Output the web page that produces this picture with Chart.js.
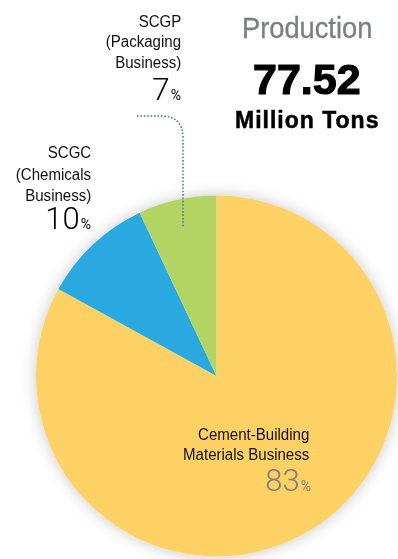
<!DOCTYPE html>
<html><head><meta charset="utf-8">
<script src="https://cdn.jsdelivr.net/npm/chart.js@4"></script>
<style>
html,body{margin:0;padding:0;background:#fff;}
#wrap{position:relative;width:398px;height:559px;overflow:hidden;}
#wrap canvas{position:absolute;left:0;top:0;}
.t{position:absolute;white-space:nowrap;font-family:"Liberation Sans",Arial,sans-serif;color:#111;}
.lab{font-size:16px;line-height:16px;transform:scaleX(0.94);transform-origin:right center;text-align:right;}
.big{font-family:Roboto,"Open Sans",sans-serif;font-weight:300;font-size:32px;line-height:32px;text-align:right;color:#000;}
.big small{font-size:14px;font-weight:400;margin-left:1px;}
</style></head>
<body>
<div id="wrap">
<canvas id="c" width="398" height="559"></canvas>
<div class="t lab" style="right:217px;top:13.5px">SCGP</div>
<div class="t lab" style="right:217px;top:34px">(Packaging</div>
<div class="t lab" style="right:217px;top:54.5px">Business)</div>
<div class="t big" style="right:217px;top:73px">7<small>%</small></div>

<div class="t lab" style="right:307px;top:144.5px">SCGC</div>
<div class="t lab" style="right:307px;top:166.5px">(Chemicals</div>
<div class="t lab" style="right:307px;top:187.5px">Business)</div>
<div class="t big" style="right:307px;top:203px;font-size:31px;line-height:31px">10<small>%</small></div>

<div class="t lab" style="right:89px;top:426.5px">Cement-Building</div>
<div class="t lab" style="right:89px;top:446.5px">Materials Business</div>
<div class="t big" style="right:87px;top:465px;color:#7b7e82;font-size:31px;line-height:31px">83<small>%</small></div>

<div class="t" style="left:242px;top:14px;font-size:29px;line-height:29px;color:#7b7e82;transform:scaleX(0.94);transform-origin:left center;-webkit-text-stroke:0.3px #7b7e82">Production</div>
<div class="t" style="left:253px;top:57.5px;font-size:43px;line-height:43px;font-weight:700;color:#000;-webkit-text-stroke:1.2px #000">77.52</div>
<div class="t" style="left:235px;top:108.5px;font-size:23px;line-height:23px;font-weight:700;color:#000;letter-spacing:1px;-webkit-text-stroke:0.5px #000">Million Tons</div>
</div>
<script>
const categories = ["Cement-Building Materials Business", "SCGC (Chemicals Business)", "SCGP (Packaging Business)"];
const shares = [83, 10, 7];
const sliceColors = ["#FDD163", "#29A9E0", "#B1D463"];

const shadowPlugin = {
  id: 'pieShadow',
  beforeDatasetsDraw(chart) {
    const arc = chart.getDatasetMeta(0).data[0];
    if (!arc) return;
    const ctx = chart.ctx;
    ctx.save();
    ctx.shadowColor = 'rgba(0,0,0,0.22)';
    ctx.shadowBlur = 16;
    ctx.fillStyle = '#fff';
    ctx.beginPath();
    ctx.arc(arc.x, arc.y, arc.outerRadius, 0, Math.PI * 2);
    ctx.fill();
    ctx.restore();
  }
};

const leaderPlugin = {
  id: 'leader',
  afterDatasetsDraw(chart) {
    const arc = chart.getDatasetMeta(0).data[2];
    if (!arc) return;
    const mid = (arc.startAngle + arc.endAngle) / 2;
    const r = arc.outerRadius * 0.85;
    const ex = arc.x + r * Math.cos(mid);
    const ey = arc.y + r * Math.sin(mid);
    const topY = 116, leftX = 136, bend = 22;
    const ctx = chart.ctx;
    ctx.save();
    ctx.strokeStyle = '#4a72ad';
    ctx.lineWidth = 1.5;
    ctx.setLineDash([1.6, 1.8]);
    ctx.beginPath();
    ctx.moveTo(ex, ey);
    ctx.lineTo(ex, topY + bend);
    ctx.quadraticCurveTo(ex, topY, ex - bend, topY);
    ctx.lineTo(leftX, topY);
    ctx.stroke();
    ctx.restore();
  }
};

new Chart(document.getElementById('c'), {
  type: 'pie',
  data: {
    labels: categories,
    datasets: [{
      data: shares,
      backgroundColor: sliceColors,
      borderWidth: 0,
      hoverOffset: 0
    }]
  },
  options: {
    responsive: false,
    animation: false,
    events: [],
    layout: { padding: { left: 36, right: 1, top: 195, bottom: 2 } },
    plugins: { legend: { display: false }, tooltip: { enabled: false } }
  },
  plugins: [shadowPlugin, leaderPlugin]
});
</script>
</body></html>
